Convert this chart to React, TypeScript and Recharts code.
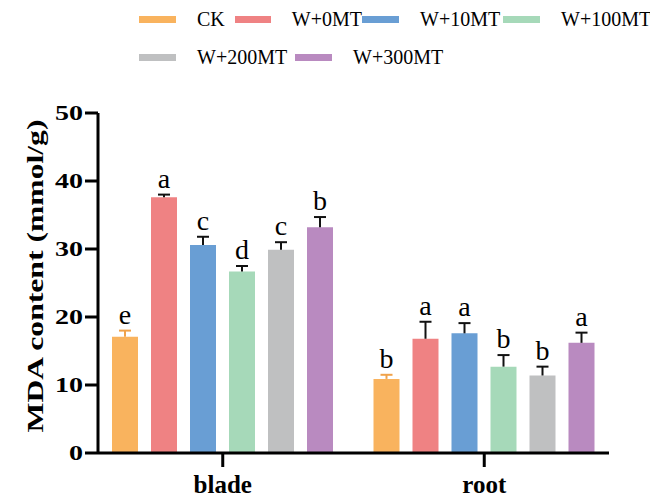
import React from 'react'
import { BarChart, Bar, XAxis, YAxis, LabelList, Label } from 'recharts'

const categories = ['blade', 'root']
const seriesNames = ['CK', 'W+0MT', 'W+10MT', 'W+100MT', 'W+200MT', 'W+300MT']
const colors = ['#F9B35E', '#EF8283', '#699ED4', '#A6D9B9', '#BFC0C1', '#B98AC0']
const errColors = ['#F0A24A', '#111', '#111', '#111', '#111', '#111']

const bladeMeans = [17.1, 37.6, 30.6, 26.7, 29.9, 33.2]
const bladeErr = [0.9, 0.4, 1.2, 0.8, 1.1, 1.5]
const bladeLetters = ['e', 'a', 'c', 'd', 'c', 'b']

const rootMeans = [10.9, 16.8, 17.6, 12.7, 11.4, 16.2]
const rootErr = [0.6, 2.5, 1.5, 1.7, 1.3, 1.5]
const rootLetters = ['b', 'a', 'a', 'b', 'b', 'a']

const yTicks = [0, 10, 20, 30, 40, 50]

const means = [bladeMeans, rootMeans]
const errs = [bladeErr, rootErr]
const letters = [bladeLetters, rootLetters]

const data = categories.map((name, i) => {
  const row: Record<string, string | number> = { name }
  seriesNames.forEach((_, j) => {
    row['s' + j] = means[i][j]
    row['e' + j] = errs[i][j]
    row['l' + j] = letters[i][j]
  })
  return row
})

const serif = '"Liberation Serif", "Times New Roman", serif'

// legend rows: item widths so the entries line up like the original
const legendRows = [
  { items: [0, 1, 2, 3], widths: [96, 127, 141, 150] },
  { items: [4, 5], widths: [156, 150] },
]

function Legend() {
  return (
    <div style={{ position: 'absolute', left: 139, top: 0, fontFamily: serif, fontSize: 20 }}>
      {legendRows.map((row, r) => (
        <div key={r} style={{ display: 'flex', height: 38, alignItems: 'center' }}>
          {row.items.map((j, k) => (
            <div key={j} style={{ display: 'flex', alignItems: 'center', width: row.widths[k] }}>
              <div style={{ width: 37, height: 7, background: colors[j], marginRight: 21 }} />
              <span style={{ whiteSpace: 'nowrap' }}>{seriesNames[j]}</span>
            </div>
          ))}
        </div>
      ))}
    </div>
  )
}

const makeErrLabel = (j: number) => (props: any) => {
  const { x, y, width, height, index } = props
  const value = Number(data[index]['s' + j])
  const err = Number(data[index]['e' + j])
  const pxPerUnit = height / value
  const cx = x + width / 2
  const top = y - err * pxPerUnit
  return (
    <g>
      <line x1={cx} y1={y} x2={cx} y2={top} stroke={errColors[j]} strokeWidth={2} />
      <line x1={cx - 6} y1={top} x2={cx + 6} y2={top} stroke={errColors[j]} strokeWidth={2} />
      <text x={cx} y={top - 7} textAnchor="middle" fontFamily={serif} fontSize={28} fill="#000">
        {String(data[index]['l' + j])}
      </text>
    </g>
  )
}

const YTick = (props: any) => {
  const { x, y, payload } = props
  const s = String(payload.value)
  return (
    <text x={x} y={y} dy="0.35em" textAnchor="end" fontFamily={serif} fontWeight="bold" fontSize={21}
      textLength={s.length * 14} lengthAdjust="spacingAndGlyphs" fill="#000">
      {s}
    </text>
  )
}

const XTick = (props: any) => {
  const { x, y, payload } = props
  return (
    <text x={x} y={y} dy={24} textAnchor="middle" fontFamily={serif} fontWeight="bold" fontSize={25} fill="#000">
      {payload.value}
    </text>
  )
}

const YLabel = (props: any) => {
  const vb = props.viewBox
  const cx = 35
  const cy = vb.y + vb.height / 2 - 7
  return (
    <text x={cx} y={cy} transform={`rotate(-90 ${cx} ${cy})`} textAnchor="middle" dominantBaseline="central"
      fontFamily={serif} fontWeight="bold" fontSize={23} textLength={313} lengthAdjust="spacingAndGlyphs" fill="#000">
      MDA content (mmol/g)
    </text>
  )
}

export default function App() {
  return (
    <div style={{ position: 'absolute', left: 0, top: 0, width: 650, height: 498, background: '#fff' }}>
      <Legend />
      <BarChart width={650} height={498} data={data} margin={{ top: 113, right: 41, bottom: 0, left: 0 }}
        barSize={26} barGap={13}>
        <XAxis dataKey="name" height={45} padding={{ left: -6, right: -6 }} tick={<XTick />}
          axisLine={{ stroke: '#000', strokeWidth: 3 }} tickLine={{ stroke: '#000', strokeWidth: 3 }} tickSize={14} />
        <XAxis xAxisId="top" orientation="top" dataKey="name" height={0} tick={false} tickLine={false}
          axisLine={{ stroke: '#000', strokeWidth: 3 }} />
        <YAxis width={98} domain={[0, 50]} ticks={yTicks} tick={<YTick />} interval={0}
          axisLine={{ stroke: '#000', strokeWidth: 3 }} tickLine={{ stroke: '#000', strokeWidth: 3 }} tickSize={13}>
          <Label content={<YLabel />} />
        </YAxis>
        <YAxis yAxisId="right" orientation="right" width={0} domain={[0, 50]} tick={false} tickLine={false}
          axisLine={{ stroke: '#000', strokeWidth: 3 }} />
        {seriesNames.map((s, j) => (
          <Bar key={s} dataKey={'s' + j} name={s} fill={colors[j]} isAnimationActive={false}>
            <LabelList dataKey={'s' + j} content={makeErrLabel(j)} />
          </Bar>
        ))}
      </BarChart>
    </div>
  )
}
